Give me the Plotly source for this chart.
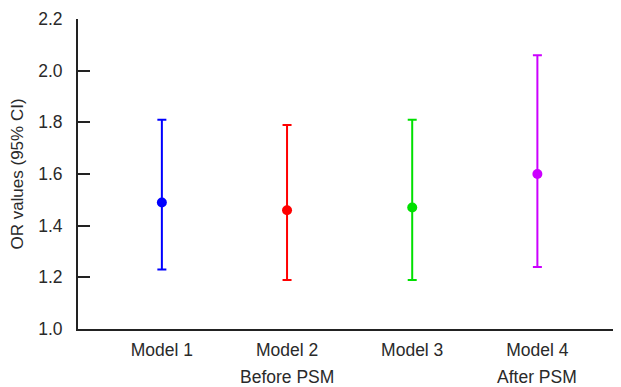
import plotly.graph_objects as go

models = ["Model 1", "Model 2", "Model 3", "Model 4"]
groups = ["", "Before PSM", "", "After PSM"]
or_values = [1.49, 1.46, 1.47, 1.60]
ci_lower = [1.23, 1.19, 1.19, 1.24]
ci_upper = [1.81, 1.79, 1.81, 2.06]
colors = ["#0000ff", "#ff0000", "#00e000", "#cc00ff"]
y_ticks = [1.0, 1.2, 1.4, 1.6, 1.8, 2.0, 2.2]

xpos = [1, 2, 3, 4]
fig = go.Figure()
for i in range(len(models)):
    fig.add_trace(go.Scatter(
        x=[xpos[i]], y=[or_values[i]], mode="markers",
        marker=dict(color=colors[i], size=10),
        error_y=dict(type="data", symmetric=False,
                     array=[ci_upper[i] - or_values[i]],
                     arrayminus=[or_values[i] - ci_lower[i]],
                     color=colors[i], thickness=2, width=4.5),
        showlegend=False, cliponaxis=False,
    ))

for i, g in enumerate(groups):
    if g:
        fig.add_annotation(x=xpos[i], y=0, xref="x", yref="paper", text=g,
                           showarrow=False, yanchor="middle", yshift=-48,
                           font=dict(size=17.5, color="#2a2a2a"))

# page has an 8px body margin, so the figure is sized to fill the remaining viewport
fig.update_layout(
    width=613, height=379,
    margin=dict(l=70, r=1, t=11, b=58),
    plot_bgcolor="white", paper_bgcolor="white",
    font=dict(family="Liberation Sans, Arial, sans-serif", size=17.5, color="#2a2a2a"),
    xaxis=dict(range=[0.33, 4.66], tickvals=xpos, ticktext=models,
               showline=True, linecolor="#222222", linewidth=2,
               ticks="", showgrid=False, zeroline=False, automargin=False,
               ticklabelstandoff=4),
    yaxis=dict(range=[1.0, 2.2], tickvals=y_ticks,
               ticktext=[f"{v:.1f}" for v in y_ticks],
               showline=True, linecolor="#222222", linewidth=2,
               ticks="inside", ticklen=12, tickwidth=2, tickcolor="#222222",
               ticklabelstandoff=10, automargin=False,
               showgrid=False, zeroline=False,
               title=dict(text="OR values (95% CI)", font=dict(size=17), standoff=10)),
)

fig.write_html("out.html")
